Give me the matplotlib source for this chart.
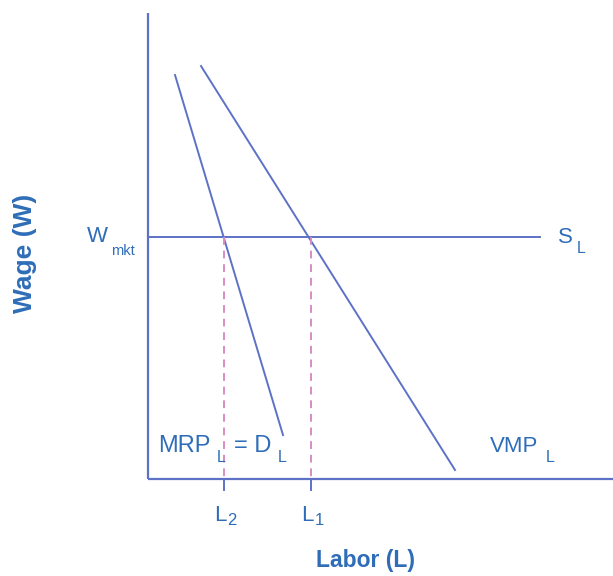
import matplotlib
matplotlib.use("Agg")
import matplotlib.pyplot as plt

plt.rcParams['font.family'] = ['Liberation Sans', 'DejaVu Sans']

# Data (arbitrary units: labor on x, wage on y)
mrp_x = [27, 135]
mrp_y = [404, 44]
vmp_x = [53, 307]
vmp_y = [413, 9]
supply_x = [0, 392]
w_mkt = 242
l2 = 76
l1 = 163

AX = '#5D72C6'
TX = '#2F6DB8'
DASH = '#D68CC4'
SUB_FS = 11.5


def label(x, y, pieces, fs=16, sub_fs=SUB_FS, sdx=4, sdy=5, gap=5):
    """pieces: list of (text, is_sub); (x, y) is left-bottom of first piece."""
    first = ax.text(x, y, pieces[0][0], fontsize=fs, color=TX,
                    ha='left', va='bottom')
    prev = first
    for txt, is_sub in pieces[1:]:
        if is_sub:
            prev = ax.annotate(txt, xy=(1, 0), xycoords=(prev, first),
                               xytext=(sdx, sdy), textcoords='offset pixels',
                               fontsize=sub_fs, color=TX, ha='left', va='top')
        else:
            prev = ax.annotate(txt, xy=(1, 0), xycoords=(prev, first),
                               xytext=(gap, 0), textcoords='offset pixels',
                               fontsize=fs, color=TX, ha='left', va='bottom')
    return first


fig = plt.figure(figsize=(6.13, 5.76), dpi=100)
ax = fig.add_axes([0, 0, 1, 1])
ax.set_xlim(-148, 465)
ax.set_ylim(-97, 479)
ax.axis('off')

# axes
ax.plot([0, 0], [0, 466], color=AX, lw=1.6, solid_capstyle='butt')
ax.plot([0, 465], [0, 0], color=AX, lw=1.6, solid_capstyle='butt')

# curves
ax.plot(mrp_x, mrp_y, color=AX, lw=1.4)
ax.plot(vmp_x, vmp_y, color=AX, lw=1.4)
ax.plot(supply_x, [w_mkt, w_mkt], color=AX, lw=1.4)

# dashed verticals and ticks
for lx in (l2, l1):
    ax.plot([lx, lx], [w_mkt, 0], color=DASH, lw=1.4, ls=(0, (4, 3)))
    ax.plot([lx, lx], [0, -11], color=AX, lw=1.4)

label(-61, w_mkt - 10, [('W', False), ('mkt', True)], sub_fs=10.5, sdx=3, sdy=3)
label(410, w_mkt - 11, [('S', False), ('L', True)], sdx=4, sdy=7)
label(10, 22, [('MRP', False), ('L', True), ('= D', False), ('L', True)],
      fs=17, sdx=6, sdy=7, gap=9)
label(342, 22, [('VMP', False), ('L', True)], sdx=7, sdy=7)
label(l2 - 10, -47, [('L', False), ('2', True)], sub_fs=12, sdx=1, sdy=13)
label(l1 - 10, -47, [('L', False), ('1', True)], sub_fs=12, sdx=1, sdy=13)

ax.text(-123, 226, 'Wage (W)', color=TX, fontsize=19, fontweight='bold',
        rotation=90, ha='center', va='center')
ax.text(217, -81, 'Labor (L)', color=TX, fontsize=16.5, fontweight='bold',
        ha='center', va='center')

fig.savefig('out.png', dpi=100)
